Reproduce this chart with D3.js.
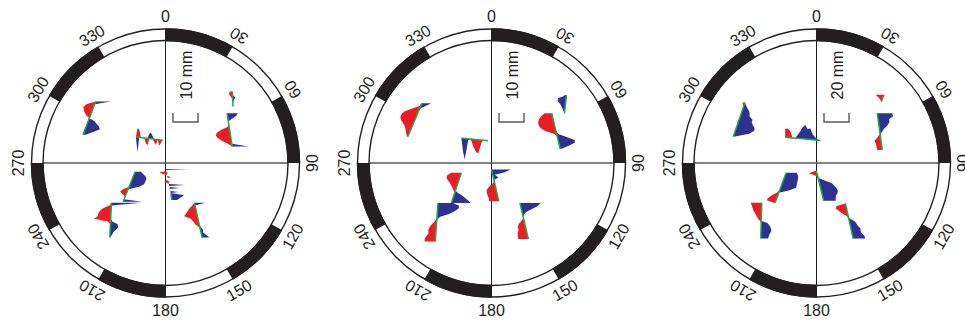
<!DOCTYPE html>
<html>
<head>
<meta charset="utf-8">
<script src="https://cdn.jsdelivr.net/npm/d3@7"></script>
<style>
  html, body { margin: 0; padding: 0; background: #fff; }
  svg { display: block; }
  text { font-family: "Liberation Sans", Arial, sans-serif; fill: #231f20; }
</style>
</head>
<body>
<svg id="chart" width="965" height="324"></svg>
<script>
// Compass ring: angle ticks (degrees, clockwise from north) and their labels
const angleTicks = [0, 30, 60, 90, 120, 150, 180, 210, 240, 270, 300, 330];
const tickLabels = ["0", "30", "60", "90", "120", "150", "180", "210", "240", "270", "300", "330"];
// Filled 30-degree sectors of the ring
const shadedSectors = [[0, 30], [60, 90], [120, 150], [180, 210], [240, 270], [300, 330]];
// Amplitude scale bar per panel (mm) and its caption
const scaleBarMm = [10, 10, 20];
const scaleBarLabels = ["10 mm", "10 mm", "20 mm"];

// Traces: [orientation, start x, start y, end x, end y, baseline only under fills]
// positions are in normalised plot units (-1..1 across the inner circle)
const tracks1 = [
  ["v", -0.570, -0.502, -0.674, -0.230, 0],
  ["h", -0.242, -0.213, -0.023, -0.186, 0],
  ["v", 0.545, -0.584, 0.551, -0.461, 0],
  ["v", 0.502, -0.407, 0.545, -0.134, 0],
  ["v", -0.248, 0.071, -0.346, 0.317, 0],
  ["v", -0.441, 0.325, -0.455, 0.609, 0],
  ["v", 0.004, 0.049, 0.053, 0.303, 1],
  ["v", 0.236, 0.325, 0.299, 0.609, 0]
];
// Deviations along each trace (mm); red and blue components
const red1 = [
  [0, -3.3, -4.1, -3.5, -2.7, -1.6, 0, 0, 0, 0, 0, 0, 0],
  [0, -3.5, -3.2, 0, 0, 0, 2.1, 2.7, 0, 0, 0, 1.3, 2.1, 0, 2.4, 1.1, 0],
  [-1.1, -1.3, -0.5, 0, 0, 0],
  [0, 0, 0, 0, 0, -0.7, -3.3, -5.3, -5.9, -5.2, -3.6, -1.6, 0],
  [0, 0, 0, 0, 0, 0, 0, -2.1, -2.8, -1.3, 0, 0, 0],
  [0, -0.7, -3.3, -4.4, -5.1, -5.3, -6.7, -1.1, 0, 0, 0, 0, 0, 0],
  [0, 0, 0, -2.4, -2.7, -1.6, 0, 0, 0, 0, 0, 0, -1.1, -1.3, -0.7, 0, 0, 0, 0, 0, 0, 0, 0, 0, 0, 0, 0, 0, 0, 0, 0, 0],
  [0, -1.1, -2.4, -3.3, -4.3, -5.3, -2.9, -2.1, -1.6, -0.5, 0, 0, 0, 0]
];
const blue1 = [
  [6.0, 0, 0, 0, 0, 0, 0, 2.4, 3.7, 5.1, 5.9, 3.7, 1.0],
  [0, 6.1, 0, 0, 0, 0, 0, 0, -1.9, -2.4, -1.1, 0, 0, 0, 0, 0, 0],
  [0, 0, 1.1, 0.3, 0.1, 0],
  [4.3, 3.5, 1.6, 0, 0, 0, 0, 0, 0, 0, 0, 0, 6.7],
  [2.3, 3.7, 5.1, 5.7, 5.6, 5.6, 4.0, 0, 0, 0, 0, 0, 7.5],
  [12, 0, 0, 0, 0, 0, 0, 0.7, 2.9, 3.2, 2.4, 1.3, 0.8, 0],
  [9.3, 0, 0, 0, 0, 0, 0, 0, 1.3, 0, 0, 0, 0, 0, 0, 0, 6.4, 0, 0, 4.0, 0, 0, 0, 3.3, 0, 2.3, 4.9, 4.9, 4.0, 3.3, 2.7, 2.0],
  [4.4, 0, 0, 0, 0, 0, 0, 0, 0, 0.4, 1.1, 0.8, 1.9, 2.9]
];

const tracks2 = [
  ["v", -0.568, -0.488, -0.683, -0.215, 0],
  ["h", -0.246, -0.203, -0.027, -0.182, 0],
  ["v", 0.612, -0.553, 0.596, -0.406, 0],
  ["v", 0.492, -0.406, 0.560, -0.116, 0],
  ["v", -0.246, 0.080, -0.328, 0.326, 0],
  ["v", -0.437, 0.326, -0.459, 0.641, 0],
  ["v", 0.000, 0.053, 0.060, 0.313, 0],
  ["v", 0.232, 0.326, 0.301, 0.621, 0]
];
const red2 = [
  [0, -0.5, -3.2, -5.6, -6.3, -6.3, -5.5, -4.4, -3.2, -2.4, -1.7, -1.1, -0.3],
  [0, 0, 0, 0, 0, 0, 0.7, 2.7, 4.0, 5.3, 5.3, 3.3, 1.1, 0, 0, 0, 0],
  [-1.2, 0, 0, 0, 0, 0, 0],
  [-2.9, -4.5, -5.7, -6.3, -6.4, -5.9, -4.3, -0.8, 0, 0, 0, 0, 0],
  [-4, -5.3, -5.3, -4.4, -3.3, -2.4, -1.6, -0.7, 0, 0, 0, 0, 0],
  [0, 0, 0, 0, 0, 0, -0.3, -1.1, -2.1, -2.8, -3.1, -2.9, -3.7, -4.3, -4.3],
  [0, 0, 0, 0, 0, -0.5, -1.9, -3.1, -4, -4, -3.9, -3.7, -3.9],
  [0, 0, 0, 0, 0, 0, -1.1, -2.5, -3.1, -3.1, -3.7, -4, -4]
];
const blue2 = [
  [3.7, 1.9, 0, 0, 0, 0, 0, 0, 0, 0, 0, 0, 0],
  [0, 5.3, 8.4, 4.7, 0.7, 0, 0, 0, 0, 0, 0, 0, 0, 0, 0, 0, 0],
  [0, -3.3, -3.2, -2.1, -1.3, -0.7, 0],
  [0, 0, 0, 0, 0, 0, 0, 0.7, 3.7, 6.7, 6.4, 3.7, 0.7],
  [0, 0, 0, 0, 0, 0, 0, 0, 1.3, 3.3, 4.9, 6.4, 7.7],
  [6, 8.5, 8.4, 6.9, 4.8, 1.3, 0, 0, 0, 0, 0, 0, 0, 0, 0],
  [7.7, 5.1, 0.8, 2.0, 0, 0, 0, 0, 0, 0, 0, 0, 0],
  [8.3, 6.9, 4.3, 1.6, 0.3, 0, 0, 0, 0, 0, 0, 0, 0]
];

const tracks3 = [
  ["v", -0.584, -0.494, -0.679, -0.216, 0],
  ["h", -0.256, -0.211, 0.031, -0.183, 0],
  ["v", 0.551, -0.557, 0.529, -0.500, 0],
  ["v", 0.496, -0.407, 0.537, -0.107, 0],
  ["v", -0.002, 0.063, 0.059, 0.309, 0],
  ["v", -0.248, 0.080, -0.338, 0.325, 0],
  ["v", -0.447, 0.325, -0.455, 0.617, 0],
  ["v", 0.236, 0.330, 0.299, 0.617, 0]
];
const red3 = [
  [-2.1, -0.8, 0, 0, 0, 0, 0, 0, 0, 0, 0, 0, 0],
  [-6.7, -7.2, -5.3, 0, 0, 0, 0, 0, 0, 0, 0, 0, 0, 0, 0],
  [-6.7, -4, -1.6, 0],
  [0, 0, 0, 0, 0, 0, 0, -0.5, -2.7, -5.3, -4.5, -4.3, -4],
  [-0.5, -6.4, -1.3, 0, 0, 0, 0, 0, 0, 0, 0, 0, 0],
  [0, 0, 0, 0, 0, 0, 0, 0, -1.6, -4.8, -6.9, -7.5, -1.1],
  [-8.8, -8, -7.2, -6.4, -5.3, -4, -2.9, -1.1, 0, 0, 0, 0, 0, 0, 0],
  [0, -7.5, -8.8, -6.4, -4.3, -1.3, 0, 0, 0, 0, 0, 0, 0, 0, 0]
];
const blue3 = [
  [0, 1.6, 3.5, 5.6, 6.9, 7.5, 10.7, 10.9, 12.5, 14.7, 15.2, 12, 1.3],
  [0, 0, 0, 0, 0, -2.7, -5.9, -9.3, -11.2, -8, -9.1, -4.3, -2.1, -0.8, 0],
  [0, 0, 0, 0],
  [12, 12.3, 8.8, 8.8, 6.7, 4, 1.9, 0, 0, 0, 0, 0, 0],
  [0, 0, 0, 0.8, 5.3, 10.1, 11.5, 12.8, 13.3, 12.5, 10.7, 10.1, 9.6],
  [8.5, 10.1, 11.2, 11.5, 11.7, 12, 12.5, 8, 0, 0, 0, 0, 0],
  [0, 0, 0, 0, 0, 0, 0, 0, 5.3, 6.7, 8, 8.3, 7.2, 6.4, 5.9],
  [0, 0, 0, 0, 0, 0, 0.8, 4, 5.3, 6.1, 7.7, 7.2, 8, 9.6, 9.6]
];

const panels = [
  { tracks: tracks1, red: red1, blue: blue1 },
  { tracks: tracks2, red: red2, blue: blue2 },
  { tracks: tracks3, red: red3, blue: blue3 }
];

// ---- layout ----
const centersX = [165.5, 491.5, 816.5];
const centerY = 163;
const rIn = 122.5, rOut = 134, labelR = 147;
const barPx = 25;
const colors = { red: "#ed1c24", blue: "#2e3192", green: "#1fab4a", ink: "#231f20", axis: "#58595b" };

const svg = d3.select("#chart");
const toRad = d => d * Math.PI / 180;

panels.forEach((p, i) => {
  const g = svg.append("g").attr("transform", `translate(${centersX[i]},${centerY})`);
  const pos = d3.scaleLinear().domain([-1, 1]).range([-rIn, rIn]);
  const amp = d3.scaleLinear().domain([0, scaleBarMm[i]]).range([0, barPx]);

  // cross-hair axes
  g.append("line").attr("x1", 0).attr("x2", 0).attr("y1", -rOut).attr("y2", rOut)
    .attr("stroke", colors.ink).attr("stroke-width", 1);
  g.append("line").attr("x1", -rIn).attr("x2", rIn).attr("y1", 0).attr("y2", 0)
    .attr("stroke", colors.axis).attr("stroke-width", 1.3);

  // ring with alternating sectors
  [rIn, rOut].forEach(r => g.append("circle").attr("r", r)
    .attr("fill", "none").attr("stroke", colors.ink).attr("stroke-width", 1.4));
  const arc = d3.arc().innerRadius(rIn - 0.7).outerRadius(rOut + 0.7);
  g.selectAll("path.sector").data(shadedSectors).join("path")
    .attr("class", "sector")
    .attr("d", d => arc({ startAngle: toRad(d[0]), endAngle: toRad(d[1]) }))
    .attr("fill", colors.ink);

  // angle labels
  g.selectAll("text.tick").data(angleTicks).join("text")
    .attr("class", "tick")
    .attr("transform", d => {
      const a = toRad(d);
      const rot = (d > 0 && d <= 180) ? d + 180 : d;
      return `translate(${labelR * Math.sin(a)},${-labelR * Math.cos(a)}) rotate(${rot})`;
    })
    .attr("text-anchor", "middle")
    .attr("dominant-baseline", "central")
    .attr("font-size", 16)
    .text((d, k) => tickLabels[k]);

  // scale bar
  const bx = 7.5, byTop = -50, byBot = -41;
  g.append("path")
    .attr("d", `M${bx},${byTop}V${byBot}H${bx + amp(scaleBarMm[i])}V${byTop}`)
    .attr("fill", "none").attr("stroke", colors.axis).attr("stroke-width", 1.4);
  g.append("text")
    .attr("transform", `translate(20.5,-88) rotate(-90)`)
    .attr("text-anchor", "middle").attr("dominant-baseline", "central")
    .attr("font-size", 16)
    .text(scaleBarLabels[i]);

  // traces
  p.tracks.forEach((t, k) => {
    const [dir, x0, y0, x1, y1, gapped] = t;
    const rv = p.red[k], bv = p.blue[k];
    const n = rv.length;
    const pts = rv.map((r, j) => {
      const f = j / (n - 1);
      return { bx: pos(x0 + (x1 - x0) * f), by: pos(y0 + (y1 - y0) * f), r, b: bv[j] };
    });
    const tipX = (d, v) => dir === "h" ? d.bx : d.bx + amp(v);
    const tipY = (d, v) => dir === "h" ? d.by + amp(v) : d.by;
    const area = key => d3.area()
      .x0(d => d.bx).y0(d => d.by)
      .x1(d => tipX(d, d[key])).y1(d => tipY(d, d[key]));

    const tg = g.append("g");
    tg.append("path").attr("d", area("r")(pts)).attr("fill", colors.red);
    tg.append("path").attr("d", area("b")(pts)).attr("fill", colors.blue);
    const line = d3.line().x(d => d.bx).y(d => d.by);
    if (gapped) line.defined(d => d.r !== 0 || d.b !== 0);
    tg.append("path").attr("d", line(pts))
      .attr("fill", "none").attr("stroke", colors.green).attr("stroke-width", 1.5);
  });
});
</script>
</body>
</html>
